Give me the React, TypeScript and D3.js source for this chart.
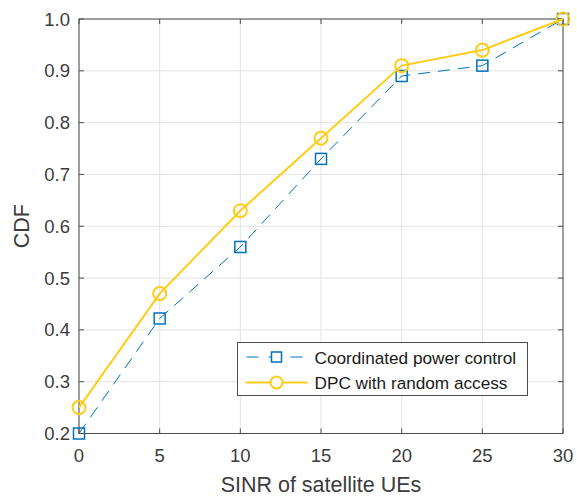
import * as d3 from "d3";

const sinr = [0, 5, 10, 15, 20, 25, 30];
const coordinated = [0.2, 0.422, 0.56, 0.73, 0.89, 0.91, 1.0];
const dpcRandom = [0.25, 0.47, 0.63, 0.77, 0.91, 0.94, 1.0];
const xTicks = [0, 5, 10, 15, 20, 25, 30];
const yTicks = [0.2, 0.3, 0.4, 0.5, 0.6, 0.7, 0.8, 0.9, 1.0];
const seriesNames = ["Coordinated power control", "DPC with random access"];

const W = 577;
const H = 498;
const pad = { top: 19, right: 14, bottom: 64.5, left: 79 };
const font = "'Liberation Sans', Arial, Helvetica, sans-serif";
const blue = "#0072BD";
const gold = "#FFCC1A";
const axisColor = "#4d4d4d";
const textColor = "#3c3c3c";

export default function App() {
  const innerW = W - pad.left - pad.right;
  const innerH = H - pad.top - pad.bottom;

  const x = d3.scaleLinear().domain([0, 30]).range([pad.left, pad.left + innerW]);
  const y = d3.scaleLinear().domain([0.2, 1.0]).range([pad.top + innerH, pad.top]);

  const line = d3
    .line<[number, number]>()
    .x((d) => x(d[0]))
    .y((d) => y(d[1]));

  const blueData = sinr.map((s, i) => [s, coordinated[i]] as [number, number]);
  const goldData = sinr.map((s, i) => [s, dpcRandom[i]] as [number, number]);

  const x0 = pad.left;
  const x1 = pad.left + innerW;
  const y0 = pad.top + innerH;
  const y1 = pad.top;

  // legend box
  const lg = { x: 237.5, y: 342.5, w: 290, h: 53 };

  return (
    <div style={{ position: "fixed", left: 0, top: 0 }}>
      <svg width={W} height={H} style={{ display: "block", background: "#fff" }}>
        {/* grid */}
        {xTicks.map((t) => (
          <line key={"gx" + t} x1={x(t)} x2={x(t)} y1={y1} y2={y0} stroke="#e3e3e3" strokeWidth={1} />
        ))}
        {yTicks.map((t) => (
          <line key={"gy" + t} x1={x0} x2={x1} y1={y(t)} y2={y(t)} stroke="#e3e3e3" strokeWidth={1} />
        ))}

        {/* axes box */}
        <rect x={x0} y={y1} width={innerW} height={innerH} fill="none" stroke={axisColor} strokeWidth={1} />

        {/* ticks */}
        {xTicks.map((t) => (
          <g key={"tx" + t}>
            <line x1={x(t)} x2={x(t)} y1={y0} y2={y0 - 5} stroke={axisColor} />
            <line x1={x(t)} x2={x(t)} y1={y1} y2={y1 + 5} stroke={axisColor} />
            <text x={x(t)} y={y0 + 28.5} textAnchor="middle" fontSize={18.5} fontFamily={font} fill={textColor}>
              {t}
            </text>
          </g>
        ))}
        {yTicks.map((t) => (
          <g key={"ty" + t}>
            <line x1={x0} x2={x0 + 5} y1={y(t)} y2={y(t)} stroke={axisColor} />
            <line x1={x1} x2={x1 - 5} y1={y(t)} y2={y(t)} stroke={axisColor} />
            <text x={x0 - 9} y={y(t) + 6.5} textAnchor="end" fontSize={18.5} fontFamily={font} fill={textColor}>
              {t.toFixed(1)}
            </text>
          </g>
        ))}

        {/* axis labels */}
        <text x={(x0 + x1) / 2} y={H - 6.5} textAnchor="middle" fontSize={21.5} fontFamily={font} fill={textColor}>
          SINR of satellite UEs
        </text>
        <text
          transform={`translate(${29}, ${(y0 + y1) / 2}) rotate(-90)`}
          textAnchor="middle"
          fontSize={21.5}
          fontFamily={font}
          fill={textColor}
        >
          CDF
        </text>

        {/* series */}
        <path d={line(blueData) ?? ""} fill="none" stroke={blue} strokeWidth={1} strokeDasharray="12,8" />
        {blueData.map((d, i) => (
          <rect
            key={"sq" + i}
            x={x(d[0]) - 5.5}
            y={y(d[1]) - 5.5}
            width={11}
            height={11}
            fill="none"
            stroke={blue}
            strokeWidth={1.5}
          />
        ))}
        <path d={line(goldData) ?? ""} fill="none" stroke={gold} strokeWidth={2} />
        {goldData.map((d, i) => (
          <circle key={"c" + i} cx={x(d[0])} cy={y(d[1])} r={6.5} fill="none" stroke={gold} strokeWidth={2} />
        ))}

        {/* legend */}
        <rect x={lg.x} y={lg.y} width={lg.w} height={lg.h} fill="#fff" stroke={axisColor} strokeWidth={1} />
        <line
          x1={lg.x + 8}
          x2={lg.x + 70}
          y1={lg.y + 14.5}
          y2={lg.y + 14.5}
          stroke={blue}
          strokeWidth={1}
          strokeDasharray="12,10"
          strokeDashoffset={-1}
        />
        <rect x={lg.x + 39 - 5} y={lg.y + 14.5 - 5} width={10} height={10} fill="#fff" stroke={blue} strokeWidth={1.5} />
        <line x1={lg.x + 8} x2={lg.x + 70} y1={lg.y + 40} y2={lg.y + 40} stroke={gold} strokeWidth={2} />
        <circle cx={lg.x + 39} cy={lg.y + 40} r={6} fill="#fff" stroke={gold} strokeWidth={2} />
        <text x={lg.x + 77} y={lg.y + 21} fontSize={17.2} fontFamily={font} fill="#1a1a1a">
          {seriesNames[0]}
        </text>
        <text x={lg.x + 77} y={lg.y + 46.5} fontSize={17.2} fontFamily={font} fill="#1a1a1a">
          {seriesNames[1]}
        </text>
      </svg>
    </div>
  );
}
